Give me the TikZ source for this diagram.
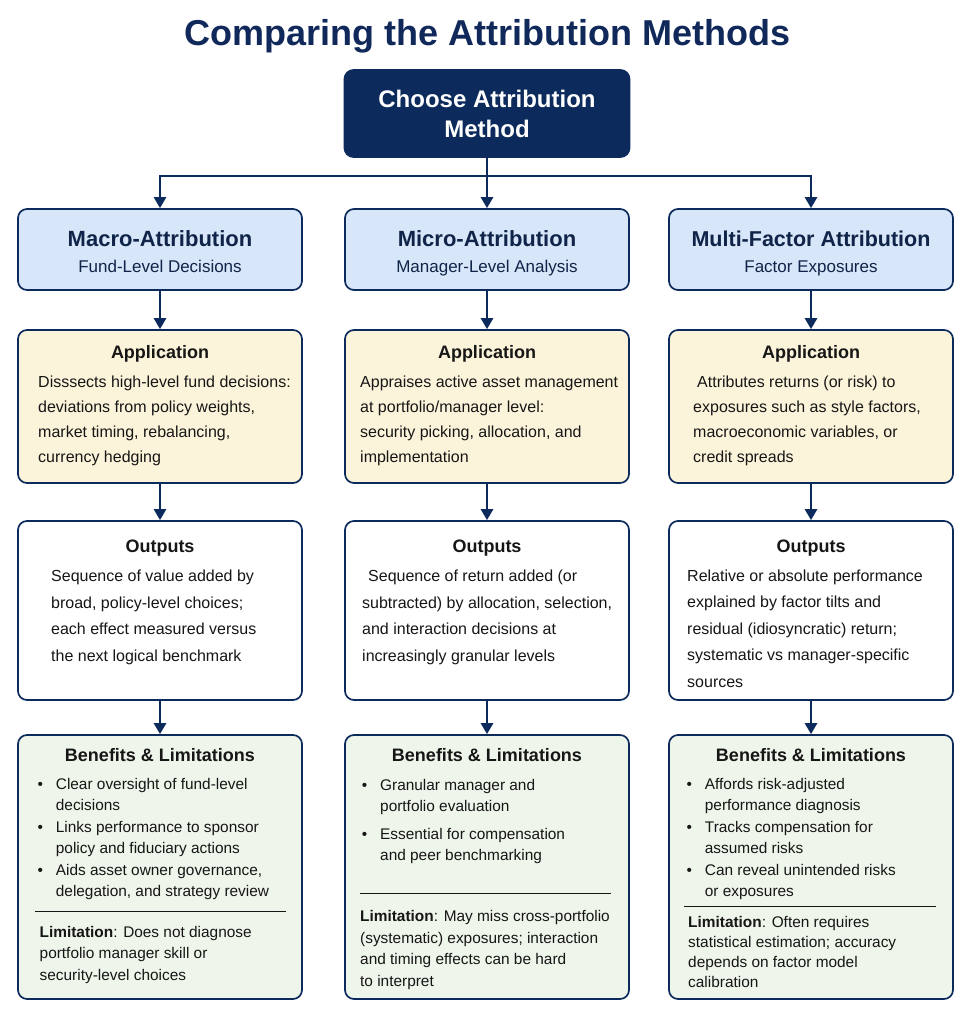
\documentclass[tikz,border=0pt]{standalone}
\usepackage{fontspec}
\setmainfont{Liberation Sans}
\usetikzlibrary{arrows.meta,calc}
\definecolor{navy}{HTML}{0C2A5B}
\definecolor{navyt}{HTML}{10295A}
\definecolor{lblue}{HTML}{D7E6F8}
\definecolor{cream}{HTML}{FCF4DA}
\definecolor{lgreen}{HTML}{EEF5EA}
\definecolor{ink}{HTML}{161616}
\definecolor{inkn}{HTML}{0F2448}
\begin{document}
\begin{tikzpicture}[x=1pt,y=-1pt,
  box/.style={draw=navy, line width=1.7pt, rounded corners=9pt, minimum width=284pt, inner sep=0pt},
  topbox/.style={box, fill=navy, minimum width=285pt, minimum height=87pt, text=white, align=center,
     font=\fontsize{24}{30}\selectfont\bfseries},
  lone/.style={box, fill=lblue, minimum height=81pt},
  appbox/.style={box, fill=cream, minimum height=153pt},
  outbox/.style={box, fill=white, minimum height=179pt},
  benbox/.style={box, fill=lgreen, minimum height=264pt},
  arr/.style={draw=navy, line width=2.6pt, -{Triangle[width=12pt,length=11pt]}},
  conn/.style={draw=navy, line width=2.6pt},
  lonetitle/.style={anchor=base, inner sep=0pt, text=inkn, font=\fontsize{22}{26}\selectfont\bfseries},
  lonesub/.style={anchor=base, inner sep=0pt, text=inkn, font=\fontsize{17}{20}\selectfont},
  hd/.style={anchor=base, inner sep=0pt, text=ink, font=\fontsize{18}{22}\selectfont\bfseries},
  body/.style={anchor=north west, inner sep=0pt, text=ink},
  sep/.style={draw=ink, line width=0.9pt}
]
\useasboundingbox[fill=white] (0,0) rectangle (971,1017);

% title
\node[anchor=base, inner sep=0pt, text=navyt, font=\fontsize{36}{40}\selectfont\bfseries] (title) at (487.5,45) {Comparing the Attribution Methods};

% top box
\node[topbox] (top) at (487,113.5) {Choose Attribution\\Method};

% level 1
\node[lone] (m1) at (160,249.5) {};
\node[lone] (m2) at (487,249.5) {};
\node[lone] (m3) at (811,249.5) {};
\node[lonetitle] (m1t) at (160,246.6) {Macro-Attribution};
\node[lonesub] (m1s) at (160,272.5) {Fund-Level Decisions};
\node[lonetitle] (m2t) at (487,246.6) {Micro-Attribution};
\node[lonesub] (m2s) at (487,272.5) {Manager-Level Analysis};
\node[lonetitle, font=\fontsize{21.5}{26}\selectfont\bfseries] (m3t) at (811,246.6) {Multi-Factor Attribution};
\node[lonesub] (m3s) at (811,272.5) {Factor Exposures};

% application
\node[appbox] (a1) at (160,406.5) {};
\node[appbox] (a2) at (487,406.5) {};
\node[appbox] (a3) at (811,406.5) {};
\node[hd] (a1t) at (160,358.7) {Application};
\node[hd] (a2t) at (487,358.7) {Application};
\node[hd] (a3t) at (811,358.7) {Application};
\node[body, font=\fontsize{16}{25}\selectfont] (a1b) at (38,369.7) {\begin{tabular}{@{}l@{}}Disssects high-level fund decisions:\\deviations from policy weights,\\market timing, rebalancing,\\currency hedging\end{tabular}};
\node[body, font=\fontsize{16}{25}\selectfont] (a2b) at (360,369.7) {\begin{tabular}{@{}l@{}}Appraises active asset management\\at portfolio/manager level:\\security picking, allocation, and\\implementation\end{tabular}};
\node[body, font=\fontsize{16}{25}\selectfont] (a3b) at (693,369.7) {\begin{tabular}{@{}l@{}}\hspace{4pt}Attributes returns (or risk) to\\exposures such as style factors,\\macroeconomic variables, or\\credit spreads\end{tabular}};

% outputs
\node[outbox] (o1) at (160,610.5) {};
\node[outbox] (o2) at (487,610.5) {};
\node[outbox] (o3) at (811,610.5) {};
\node[hd] (o1t) at (160,552.5) {Outputs};
\node[hd] (o2t) at (487,552.5) {Outputs};
\node[hd] (o3t) at (811,552.5) {Outputs};
\node[body, font=\fontsize{16}{26.8}\selectfont] (o1b) at (51,562.4) {\begin{tabular}{@{}l@{}}Sequence of value added by\\broad, policy-level choices;\\each effect measured versus\\the next logical benchmark\end{tabular}};
\node[body, font=\fontsize{16}{26.8}\selectfont] (o2b) at (362,562.4) {\begin{tabular}{@{}l@{}}\hspace{6pt}Sequence of return added (or\\subtracted) by allocation, selection,\\and interaction decisions at\\increasingly granular levels\end{tabular}};
\node[body, font=\fontsize{16}{26.5}\selectfont] (o3b) at (687,562.6) {\begin{tabular}{@{}l@{}}Relative or absolute performance\\explained by factor tilts and\\residual (idiosyncratic) return;\\systematic vs manager-specific\\sources\end{tabular}};

% benefits
\node[benbox] (b1) at (160,867) {};
\node[benbox] (b2) at (487,867) {};
\node[benbox] (b3) at (811,867) {};
\node[hd] (b1t) at (160,761.4) {Benefits \& Limitations};
\node[hd] (b2t) at (487,761.4) {Benefits \& Limitations};
\node[hd] (b3t) at (811,761.4) {Benefits \& Limitations};

\node[body, font=\fontsize{15.4}{21.5}\selectfont] (b1l) at (37.3,774) {\begin{tabular}{@{}l@{\hspace{13pt}}l@{}}
\textbullet & Clear oversight of fund-level\\
 & decisions\\
\textbullet & Links performance to sponsor\\
 & policy and fiduciary actions\\
\textbullet & Aids asset owner governance,\\
 & delegation, and strategy review\end{tabular}};
\node[body, font=\fontsize{15.4}{21.5}\selectfont] (b2l) at (361.6,775) {\begin{tabular}{@{}l@{\hspace{13pt}}l@{}}
\textbullet & Granular manager and\\
 & portfolio evaluation\\[6pt]
\textbullet & Essential for compensation\\
 & and peer benchmarking\end{tabular}};
\node[body, font=\fontsize{15.4}{21.5}\selectfont] (b3l) at (686.3,774) {\begin{tabular}{@{}l@{\hspace{13pt}}l@{}}
\textbullet & Affords risk-adjusted\\
 & performance diagnosis\\
\textbullet & Tracks compensation for\\
 & assumed risks\\
\textbullet & Can reveal unintended risks\\
 & or exposures\end{tabular}};

\draw[sep] (35,911.7) -- (286,911.7);
\draw[sep] (360,893.3) -- (611,893.3);
\draw[sep] (684,906) -- (936,906);

\node[body, font=\fontsize{15.4}{21.3}\selectfont] (b1m) at (39.5,922.4) {\begin{tabular}{@{}l@{}}\textbf{Limitation}: Does not diagnose\\portfolio manager skill or\\security-level choices\end{tabular}};
\node[body, font=\fontsize{15.4}{21.5}\selectfont] (b2m) at (360,906.7) {\begin{tabular}{@{}l@{}}\textbf{Limitation}: May miss cross-portfolio\\(systematic) exposures; interaction\\and timing effects can be hard\\to interpret\end{tabular}};
\node[body, font=\fontsize{15.4}{20}\selectfont] (b3m) at (688,913.3) {\begin{tabular}{@{}l@{}}\textbf{Limitation}: Often requires\\statistical estimation; accuracy\\depends on factor model\\calibration\end{tabular}};

% connectors
\coordinate (j) at (487,176);
\draw[conn] (top.south) -- (j);
\draw[arr] (j) -| (m1.north);
\draw[arr] (j) -- (m2.north);
\draw[arr] (j) -| (m3.north);
\foreach \c in {1,2,3}{
  \draw[arr] (m\c) -- (a\c);
  \draw[arr] (a\c) -- (o\c);
  \draw[arr] (o\c) -- (b\c);
}
\end{tikzpicture}
\end{document}
